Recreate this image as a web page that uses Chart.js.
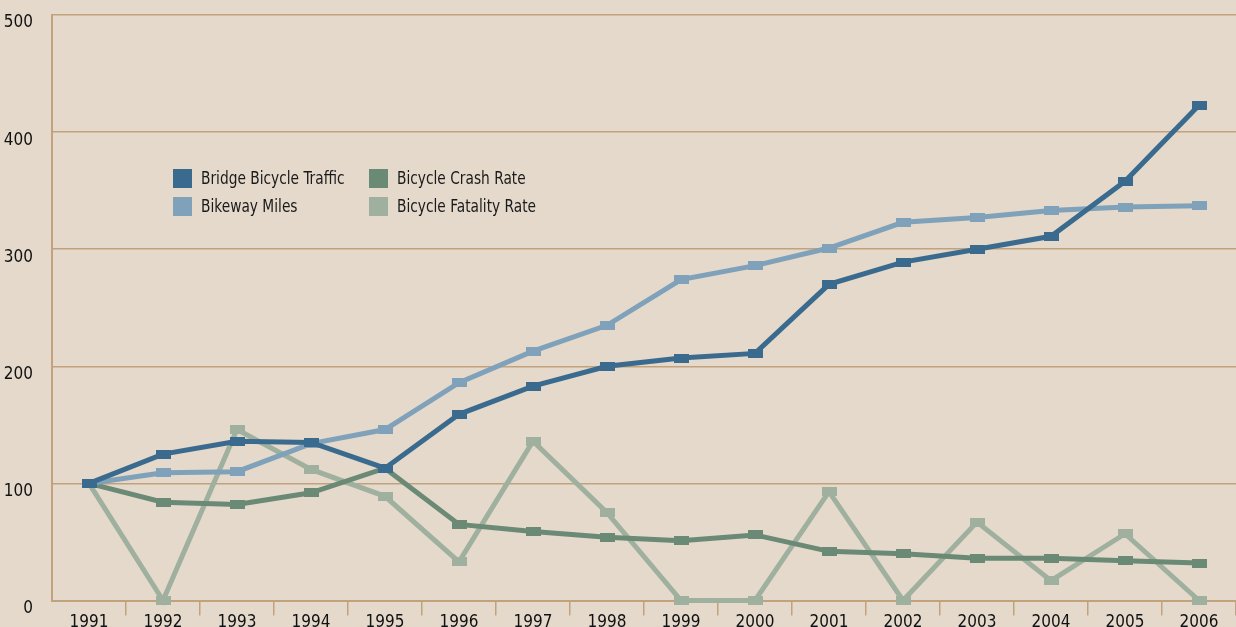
<!DOCTYPE html>
<html>
<head>
<meta charset="utf-8">
<script src="https://cdn.jsdelivr.net/npm/chart.js@4/dist/chart.umd.min.js"></script>
<style>
  html, body { margin: 0; padding: 0; background: #e4d9cb; overflow: hidden; }
  #wrap { width: 1236px; height: 627px; position: relative; }
</style>
</head>
<body>
<div id="wrap"><canvas id="chart"></canvas></div>
<script>
// Data
const years = ['1991','1992','1993','1994','1995','1996','1997','1998','1999','2000','2001','2002','2003','2004','2005','2006'];
const bridgeTraffic = [100, 125, 136, 135, 113, 159, 183, 200, 207, 211, 270, 289, 300, 311, 358, 423];
const bikewayMiles = [100, 109, 110, 134, 146, 186, 213, 235, 274, 286, 301, 323, 327, 333, 336, 337];
const crashRate = [100, 84, 82, 92, 113, 65, 59, 54, 51, 56, 42, 40, 36, 36, 34, 32];
const fatalityRate = [100, 0, 146, 112, 89, 33, 136, 75, 0, 0, 93, 0, 67, 17, 57, 0];
const yTicks = [0, 100, 200, 300, 400, 500];

const FONT = "'DejaVu Sans Condensed', 'DejaVu Sans', sans-serif";
const gridColor = '#c2a27d';

// wide flat square markers
function marker(color) {
    const c = document.createElement('canvas');
    c.width = 15; c.height = 9;
    const g = c.getContext('2d');
    g.fillStyle = color;
    g.fillRect(0, 0, 15, 9);
    return c;
}

function series(label, data, color) {
    return {
        label: label, data: data,
        borderColor: color, backgroundColor: color,
        borderWidth: 5, tension: 0, clip: false,
        pointStyle: marker(color), pointRadius: 6
    };
}

// Legend drawn inside the plot, 2 columns
const insideLegend = {
    id: 'insideLegend',
    afterDraw(chart) {
        const ctx = chart.ctx;
        ctx.save();
        ctx.font = "18px " + FONT;
        ctx.textBaseline = 'middle';
        chart.data.datasets.forEach((ds, i) => {
            const x = 173 + Math.floor(i / 2) * 196;
            const y = 169 + (i % 2) * 28;
            ctx.fillStyle = ds.borderColor;
            ctx.fillRect(x, y, 19, 19);
            ctx.fillStyle = '#1a1a1a';
            // squeeze text a bit, the original face is condensed
            ctx.save();
            ctx.translate(x + 28, y + 10);
            ctx.scale(0.85, 1);
            ctx.fillText(ds.label, 0, 0);
            ctx.restore();
        });
        ctx.restore();
    }
};

function noPad(s) {
    s.paddingTop = 0; s.paddingBottom = 0; s.paddingLeft = 0; s.paddingRight = 0;
}

new Chart(document.getElementById('chart'), {
    type: 'line',
    data: {
        labels: years,
        datasets: [
            series('Bridge Bicycle Traffic', bridgeTraffic, '#3a6b8f'),
            series('Bikeway Miles', bikewayMiles, '#7fa1ba'),
            series('Bicycle Crash Rate', crashRate, '#6a8a76'),
            series('Bicycle Fatality Rate', fatalityRate, '#9fb09f')
        ]
    },
    options: {
        responsive: true, maintainAspectRatio: false, animation: false,
        layout: { autoPadding: false, padding: { top: 15, right: 0, left: 0, bottom: 0 } },
        plugins: { legend: { display: false }, tooltip: { enabled: false } },
        scales: {
            x: {
                offset: true,
                grid: {
                    display: true, offset: true, drawOnChartArea: false, drawTicks: true, tickLength: 15,
                    color: c => c.index === 0 ? 'rgba(0,0,0,0)' : gridColor, lineWidth: 1.5
                },
                border: { display: true, color: gridColor, width: 2 },
                ticks: { color: '#111', font: { family: FONT, size: 17 }, padding: -3, maxRotation: 0, autoSkip: false },
                afterFit(s) { s.height = 26.5; noPad(s); }
            },
            y: {
                min: 0, max: 500,
                afterBuildTicks(s) { s.ticks = yTicks.map(v => ({ value: v })); },
                grid: { color: gridColor, lineWidth: 1.5, drawTicks: false },
                border: { display: true, color: gridColor, width: 2 },
                ticks: { color: '#111', font: { family: FONT, size: 17 }, padding: 19, labelOffset: 8 },
                afterFit(s) { s.width = 52; noPad(s); }
            }
        }
    },
    plugins: [insideLegend]
});
</script>
</body>
</html>
